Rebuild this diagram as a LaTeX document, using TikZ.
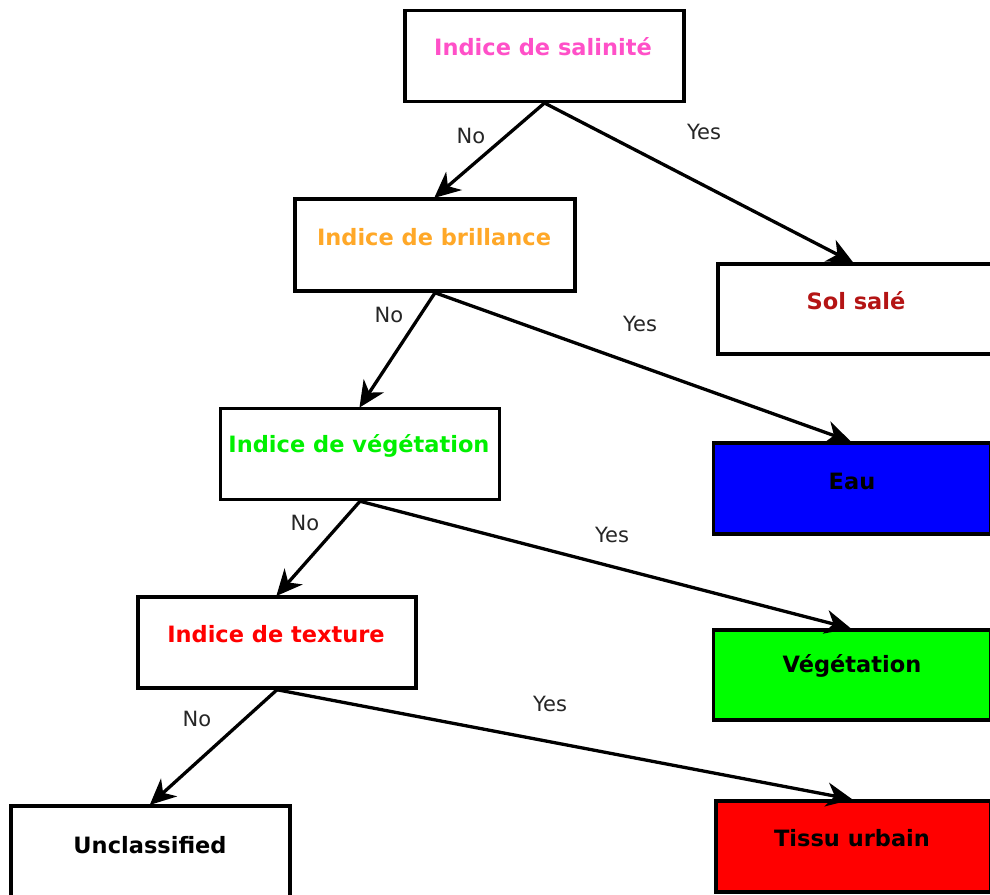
\documentclass[tikz,border=0pt]{standalone}
\usepackage{fontspec}
\setmainfont{DejaVu Sans}
\usetikzlibrary{arrows.meta}
\definecolor{cpink}{RGB}{255,80,200}
\definecolor{corange}{RGB}{255,168,40}
\definecolor{cgreen}{RGB}{0,240,0}
\definecolor{cred}{RGB}{255,0,0}
\definecolor{cdred}{RGB}{180,20,20}
\definecolor{fblue}{RGB}{0,0,255}
\definecolor{fgreen}{RGB}{0,255,0}
\definecolor{fred}{RGB}{255,0,0}
\begin{document}
\begin{tikzpicture}[x=1pt,y=-1pt,
  box/.style={draw=black, line width=3.5pt, rectangle, minimum width=279pt, minimum height=91pt, inner sep=0pt, fill=white},
  boxtext/.style={font=\bfseries\fontsize{22.5}{26}\selectfont, anchor=center, inner sep=0pt},
  arr/.style={line width=3.3pt, -{Stealth[length=26pt, width=24pt, inset=8pt]}, shorten >=-1pt},
  lab/.style={font=\fontsize{21}{24}\selectfont, text=black!85, inner sep=0pt}]
\clip (0,0) rectangle (990,894);
\useasboundingbox (0,0) rectangle (990,894);
\fill[white] (0,0) rectangle (990,894);
% boxes
\node[box] (sal) at (544.5,55.75) {};
\node[box, minimum width=280pt, minimum height=92pt] (bri) at (435,245) {};
\node[box, minimum width=277pt, minimum height=90pt] (sol) at (856.5,309) {};
\node[box] (veg) at (360,454) {};
\node[box, minimum width=277pt, fill=fblue] (eau) at (852,488.5) {};
\node[box, minimum width=278pt] (tex) at (277,642.5) {};
\node[box, minimum width=277pt, minimum height=90pt, fill=fgreen] (vgl) at (852,675) {};
\node[box] (unc) at (150.5,851.5) {};
\node[box, minimum width=275pt, fill=fred] (tis) at (853.5,846.5) {};
% texts
\node[boxtext, text=cpink] (tsal) at (543,47) {Indice de salinité};
\node[boxtext, text=corange] (tbri) at (434,237) {Indice de brillance};
\node[boxtext, text=cdred] (tsol) at (856,301) {Sol salé};
\node[boxtext, text=cgreen] (tveg) at (359,446) {Indice de végétation};
\node[boxtext, text=black] (teau) at (852,481) {Eau};
\node[boxtext, text=cred] (ttex) at (276,634) {Indice de texture};
\node[boxtext, text=black] (tvgl) at (852,666) {Végétation};
\node[boxtext, text=black] (tunc) at (150,845) {Unclassified};
\node[boxtext, text=black] (ttis) at (852,838) {Tissu urbain};
% arrows
\draw[arr] (sal.south) -- (bri.north);
\draw[arr] (sal.south) -- ([xshift=-4pt]sol.north);
\draw[arr] (bri.south) -- (veg.north);
\draw[arr] (bri.south) -- ([xshift=-2pt]eau.north);
\draw[arr] (veg.south) -- (tex.north);
\draw[arr] (veg.south) -- ([xshift=-2pt]vgl.north);
\draw[arr] (tex.south) -- (unc.north);
\draw[arr] (tex.south) -- ([xshift=-2pt]tis.north);
% labels
\node[lab] (n1) at (471,136) {No};
\node[lab] (y1) at (704,132) {Yes};
\node[lab] (n2) at (389,315) {No};
\node[lab] (y2) at (640,324) {Yes};
\node[lab] (n3) at (305,523) {No};
\node[lab] (y3) at (612,535) {Yes};
\node[lab] (n4) at (197,719) {No};
\node[lab] (y4) at (550,704) {Yes};
\end{tikzpicture}
\end{document}
